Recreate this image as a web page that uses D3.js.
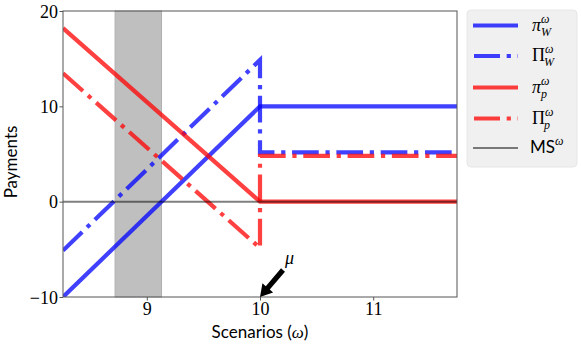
<!DOCTYPE html>
<html><head><meta charset="utf-8">
<script src="https://cdn.jsdelivr.net/npm/d3@7"></script>
<style>body{margin:0;background:#fff}</style>
</head><body>
<svg id="c" width="581" height="347"></svg>
<script>
// ---- data ----
const xDomain = [8.26, 11.74];
const yDomain = [-10, 20];
const xTicks = [9, 10, 11];
const yTicks = [-10, 0, 10, 20];
const band = [8.72, 9.13];
const piW_x = [8.26, 10, 11.74], piW_y = [-10, 10, 10];
const PiW_x = [8.26, 10, 10, 11.74], PiW_y = [-5.13, 14.87, 5.17, 5.17];
const pip_x = [8.26, 10, 11.74], pip_y = [18.2, 0, 0];
const Pip_x = [8.26, 10, 10, 11.74], Pip_y = [13.47, -4.86, 4.8, 4.8];
const MS_x = [8.26, 11.74], MS_y = [0, 0];
const muX = 10, muY = -10;

const svg = d3.select('#c');
const L = 63, R = 457, T = 11, B = 297;
const x = d3.scaleLinear().domain(xDomain).range([L, R]);
const y = d3.scaleLinear().domain(yDomain).range([B, T]);
const sans = 'Lato, "Open Sans", sans-serif';
const serif = '"Liberation Serif", serif';

svg.append('defs').append('clipPath').attr('id','clip')
  .append('rect').attr('x',L).attr('y',T).attr('width',R-L).attr('height',B-T);

// band
svg.append('rect').attr('x', x(band[0])).attr('y', T).attr('width', x(band[1])-x(band[0])).attr('height', B-T)
  .attr('fill', '#bfbfbf').attr('stroke','#b0b0b0').attr('stroke-width',1);

const line = d3.line().x(d=>x(d[0])).y(d=>y(d[1]));
const g = svg.append('g').attr('clip-path','url(#clip)');
const dd = '26.7,6.7,4.2,6.7';
const series = [
  {xs: piW_x, ys: piW_y, c: 'blue', dash: null, w: 4.2, op: 0.75},
  {xs: PiW_x, ys: PiW_y, c: 'blue', dash: dd, w: 4.2, op: 0.75},
  {xs: pip_x, ys: pip_y, c: 'red', dash: null, w: 4.2, op: 0.75},
  {xs: Pip_x, ys: Pip_y, c: 'red', dash: dd, w: 4.2, op: 0.75},
  {xs: MS_x, ys: MS_y, c: 'black', dash: null, w: 2, op: 0.5},
];
series.forEach(s => {
  g.append('path').datum(s.xs.map((v,i)=>[v, s.ys[i]]))
    .attr('d', line).attr('fill','none').attr('stroke', s.c).attr('stroke-opacity', s.op)
    .attr('stroke-width', s.w).attr('stroke-dasharray', s.dash).attr('stroke-linejoin','miter');
});

// frame
svg.append('rect').attr('x',L).attr('y',T).attr('width',R-L).attr('height',B-T)
  .attr('fill','none').attr('stroke','#555').attr('stroke-width',1);

// axes
const xa = svg.append('g').attr('transform',`translate(0,${B})`)
  .call(d3.axisBottom(x).tickValues(xTicks).tickSize(3.5).tickSizeOuter(0).tickFormat(d3.format('d')));
const ya = svg.append('g').attr('transform',`translate(${L},0)`)
  .call(d3.axisLeft(y).tickValues(yTicks).tickSize(3.5).tickSizeOuter(0).tickFormat(d => d < 0 ? '\u2212' + Math.abs(d) : d));
[xa, ya].forEach(a => {
  a.select('.domain').remove();
  a.selectAll('line').attr('stroke','#555');
  a.selectAll('text').attr('font-family',serif).attr('font-size',18).attr('fill','#000');
});
xa.selectAll('text').attr('dy','0.71em').attr('y',5);
ya.selectAll('text').attr('dy','0.34em').attr('x',-5);

// axis labels
const xl = svg.append('text').attr('x', 260).attr('y', 338).attr('text-anchor','middle')
  .attr('font-family',sans).attr('font-size',17);
xl.append('tspan').text('Scenarios (');
xl.append('tspan').attr('font-family',serif).attr('font-style','italic').attr('font-size',17).text('ω');
xl.append('tspan').text(')');
svg.append('text').attr('transform','translate(17,162) rotate(-90)').attr('text-anchor','middle')
  .attr('font-family',sans).attr('font-size',17).text('Payments');

// arrow
const tipX = x(muX), tipY = y(muY);
const tailX = tipX + 23, tailY = tipY - 27;
const ang = Math.atan2(tipY - tailY, tipX - tailX);
const len = Math.hypot(tipX - tailX, tipY - tailY);
const hl = 12, hw = 7, sw = 2.6;
const ax = svg.append('g').attr('transform', `translate(${tailX},${tailY}) rotate(${ang*180/Math.PI})`);
ax.append('path').attr('d', `M0,${-sw} L${len-hl},${-sw} L${len-hl},${-hw} L${len},0 L${len-hl},${hw} L${len-hl},${sw} L0,${sw} Z`)
  .attr('fill','#000');
svg.append('text').attr('x', tailX + 2).attr('y', tailY - 6).attr('font-family',serif)
  .attr('font-style','italic').attr('font-size',18).text('μ');

// legend
const lg = svg.append('g');
lg.append('rect').attr('x',467).attr('y',10).attr('width',110).attr('height',157).attr('rx',4)
  .attr('fill','#f0f0f0').attr('stroke','#e6e6e6');
const leg = [
  {c:'blue', dash:null, w:4.2, op:0.75, sym:'π', sub:'W'},
  {c:'blue', dash:dd, w:4.2, op:0.75, sym:'Π', sub:'W'},
  {c:'red', dash:null, w:4.2, op:0.75, sym:'π', sub:'p'},
  {c:'red', dash:dd, w:4.2, op:0.75, sym:'Π', sub:'p'},
  {c:'black', dash:null, w:2, op:0.5, sym:'MS', sub:null},
];
const ly = [25.5, 56, 87.5, 118.5, 148];
leg.forEach((d,i) => {
  lg.append('line').attr('x1',473).attr('x2',518).attr('y1',ly[i]).attr('y2',ly[i])
    .attr('stroke',d.c).attr('stroke-opacity',d.op).attr('stroke-width',d.w)
    .attr('stroke-dasharray', d.dash ? '26,6.7,4.2,6.7' : null).attr('stroke-dashoffset', d.dash ? -1 : null);
  const t = lg.append('text').attr('x',532).attr('y',ly[i]+5).attr('font-size',18);
  if (d.sub) {
    t.append('tspan').attr('font-family',serif).attr('font-style', d.sym==='π'?'italic':'normal').text(d.sym);
    t.append('tspan').attr('font-family',serif).attr('font-style','italic').attr('font-size',12).attr('dy',-8).text('ω');
    t.append('tspan').attr('font-family',serif).attr('font-style','italic').attr('font-size',12).attr('x', d.sym==='π'?541:544).attr('dy',13).text(d.sub);
  } else {
    t.attr('x',530).attr('font-family',sans).attr('font-size',17).append('tspan').text('MS');
    t.append('tspan').attr('font-family',serif).attr('font-style','italic').attr('font-size',12).attr('dy',-8).text('ω');
  }
});
</script>
</body></html>
